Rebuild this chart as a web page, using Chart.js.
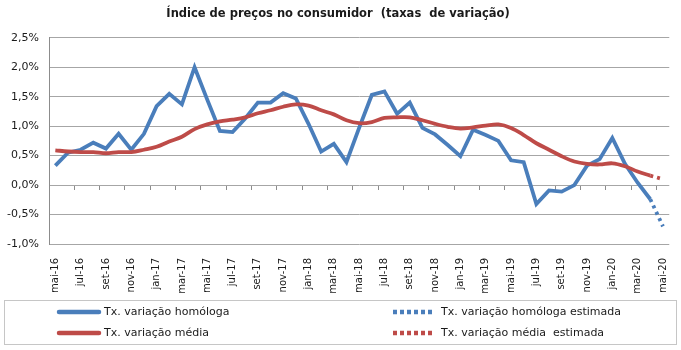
<!DOCTYPE html>
<html>
<head>
<meta charset="utf-8">
<script src="https://cdn.jsdelivr.net/npm/chart.js@4/dist/chart.umd.min.js"></script>
<style>
  html, body { margin: 0; padding: 0; background: #ffffff; }
  #wrap { width: 681px; height: 350px; }
</style>
</head>
<body>
<div id="wrap"><canvas id="c" width="681" height="350"></canvas></div>
<script>
// Months from May 2016 to May 2020
const months = [
  'mai-16','jun-16','jul-16','ago-16','set-16','out-16','nov-16','dez-16',
  'jan-17','fev-17','mar-17','abr-17','mai-17','jun-17','jul-17','ago-17','set-17','out-17','nov-17','dez-17',
  'jan-18','fev-18','mar-18','abr-18','mai-18','jun-18','jul-18','ago-18','set-18','out-18','nov-18','dez-18',
  'jan-19','fev-19','mar-19','abr-19','mai-19','jun-19','jul-19','ago-19','set-19','out-19','nov-19','dez-19',
  'jan-20','fev-20','mar-20','abr-20','mai-20'
];

// Year-on-year rate (%)
const homologa = [
  0.33, 0.55, 0.60, 0.72, 0.62, 0.87, 0.60, 0.87,
  1.34, 1.55, 1.37, 2.00, 1.45, 0.92, 0.90, 1.13, 1.40, 1.40, 1.56, 1.47,
  1.04, 0.57, 0.70, 0.39, 0.97, 1.53, 1.59, 1.21, 1.40, 0.97, 0.86, 0.68,
  0.49, 0.94, 0.85, 0.75, 0.42, 0.39, -0.32, -0.09, -0.11, 0.00, 0.33, 0.44,
  0.80, 0.36, 0.04, -0.24, null
];

// 12-month average rate (%)
const media = [
  0.59, 0.57, 0.56, 0.56, 0.54, 0.56, 0.56, 0.60,
  0.65, 0.74, 0.82, 0.95, 1.03, 1.08, 1.11, 1.15, 1.22, 1.27, 1.33, 1.37,
  1.35, 1.27, 1.20, 1.10, 1.05, 1.07, 1.14, 1.15, 1.15, 1.10, 1.04, 0.99,
  0.96, 0.98, 1.01, 1.03, 0.97, 0.85, 0.71, 0.60, 0.49, 0.40, 0.36, 0.35,
  0.37, 0.32, 0.23, 0.16, null
];

// Estimated values (last real month + estimate for May 2020)
const homologaEstimada = months.map(() => null);
homologaEstimada[47] = -0.24;
homologaEstimada[48] = -0.70;
const mediaEstimada = months.map(() => null);
mediaEstimada[47] = 0.16;
mediaEstimada[48] = 0.10;

// Value axis
const yMin = -1.0, yMax = 2.5, yStep = 0.5;

const seriesNames = [
  'Tx. variação homóloga',
  'Tx. variação média',
  'Tx. variação homóloga estimada',
  'Tx. variação média  estimada'
];

const BLUE = '#4A7EBB';
const RED = '#BE4B48';
const FONT = '"DejaVu Sans", Verdana, sans-serif';

// Boxed two-column legend under the axis labels
const boxLegend = {
  id: 'boxLegend',
  afterDraw(chart) {
    const ctx = chart.ctx;
    ctx.save();
    ctx.strokeStyle = '#c6c6c6';
    ctx.lineWidth = 1;
    ctx.strokeRect(4.5, 300.5, 672, 44);
    const slots = [[57, 312], [57, 333], [393, 312], [393, 333]];
    chart.data.datasets.forEach((ds, i) => {
      const [x, y] = slots[i];
      const dashed = ds.borderDash && ds.borderDash.length;
      ctx.beginPath();
      ctx.strokeStyle = ds.borderColor;
      ctx.lineWidth = 4.5;
      if (dashed) {
        ctx.lineCap = 'butt';
        ctx.setLineDash([4, 3]);
        ctx.moveTo(x, y);
        ctx.lineTo(x + 41, y);
      } else {
        ctx.lineCap = 'round';
        ctx.setLineDash([]);
        ctx.moveTo(x + 2, y);
        ctx.lineTo(x + 42, y);
      }
      ctx.stroke();
      ctx.setLineDash([]);
      ctx.fillStyle = '#1a1a1a';
      ctx.font = '11px ' + FONT;
      ctx.textBaseline = 'middle';
      ctx.textAlign = 'left';
      ctx.fillText(ds.label, dashed ? x + 48 : x + 47, y);
    });
    ctx.restore();
  }
};

const fmtPct = v => v.toFixed(1).replace('.', ',') + '%';

new Chart(document.getElementById('c'), {
  type: 'line',
  data: {
    labels: months,
    datasets: [
      { label: seriesNames[0], data: homologa, borderColor: BLUE, backgroundColor: BLUE,
        borderWidth: 3.8, pointRadius: 0, tension: 0, order: 4, spanGaps: false },
      { label: seriesNames[1], data: media, borderColor: RED, backgroundColor: RED,
        borderWidth: 3.8, pointRadius: 0, tension: 0.35, order: 2 },
      { label: seriesNames[2], data: homologaEstimada, borderColor: BLUE, backgroundColor: BLUE,
        borderWidth: 3.8, borderDash: [3, 4], borderCapStyle: 'butt', pointRadius: 0, order: 3 },
      { label: seriesNames[3], data: mediaEstimada, borderColor: RED, backgroundColor: RED,
        borderWidth: 3.8, borderDash: [3, 4], borderCapStyle: 'butt', pointRadius: 0, order: 1 }
    ]
  },
  options: {
    responsive: false,
    animation: false,
    devicePixelRatio: 1,
    layout: { padding: { left: 0, right: 5, top: 0, bottom: 50 } },
    plugins: {
      legend: { display: false },
      tooltip: { enabled: false },
      title: {
        display: true,
        text: 'Índice de preços no consumidor  (taxas  de variação)',
        color: '#1a1a1a',
        font: { family: FONT, size: 11.5, weight: 'bold' },
        padding: { top: 7, bottom: 17 }
      }
    },
    scales: {
      x: {
        type: 'category',
        offset: true,
        grid: { display: false },
        border: { display: false },
        ticks: {
          autoSkip: false,
          maxRotation: 90,
          minRotation: 90,
          padding: 6,
          color: '#1a1a1a',
          font: { family: FONT, size: 10 },
          callback: (v, i) => (i % 2 === 0 ? months[i] : null)
        },
        afterFit: s => { s.height = 56; }
      },
      x2: {
        type: 'category',
        position: { y: 0 },
        offset: true,
        grid: {
          offset: true,
          drawOnChartArea: false,
          drawTicks: true,
          tickLength: 5,
          color: c => (c.index % 2 === 0 ? '#8c8c8c' : 'rgba(0,0,0,0)')
        },
        border: { display: false },
        ticks: { display: false, autoSkip: false }
      },
      y: {
        min: yMin,
        max: yMax,
        ticks: {
          stepSize: yStep,
          padding: 10,
          color: '#1a1a1a',
          font: { family: FONT, size: 11 },
          callback: v => fmtPct(v)
        },
        grid: { color: '#a6a6a6', lineWidth: 1, drawTicks: false },
        border: { display: true, color: '#8c8c8c' },
        afterFit: s => { s.width = 49; }
      }
    }
  },
  plugins: [boxLegend]
});
</script>
</body>
</html>
